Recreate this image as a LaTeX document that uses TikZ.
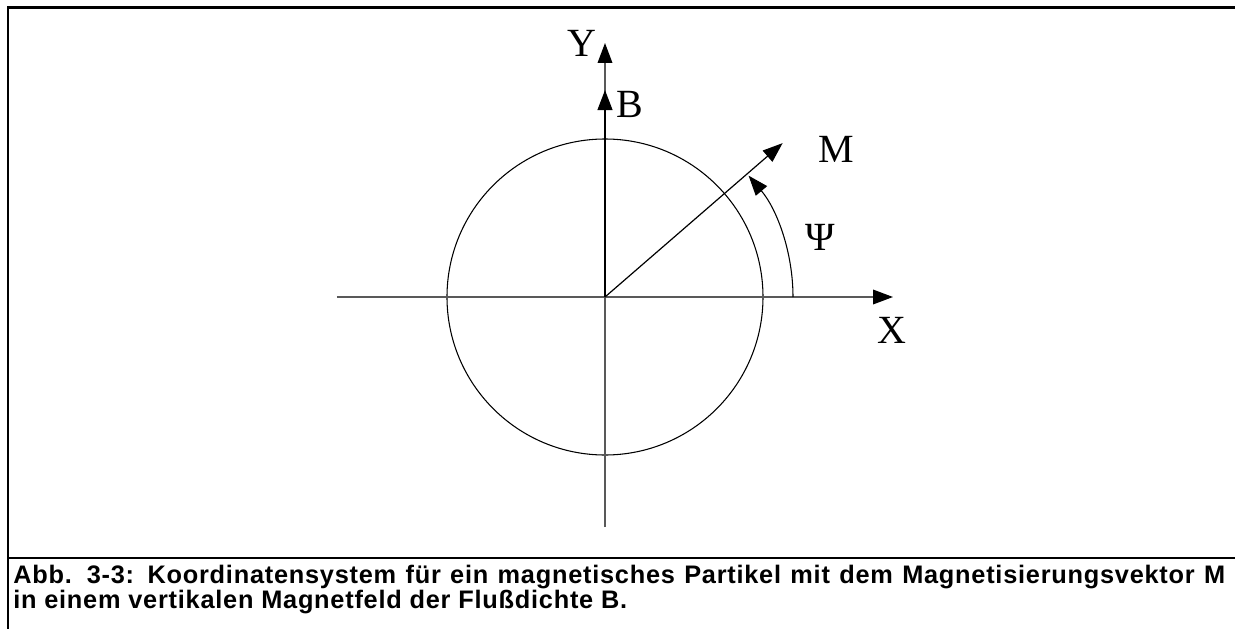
\documentclass[tikz,border=0pt]{standalone}
\usepackage{fontspec}
\setmainfont{Liberation Serif}
\setsansfont{Liberation Sans}
\newfontfamily\capfont[LetterSpace=3]{Liberation Sans}
\usetikzlibrary{arrows.meta}

\begin{document}
\begin{tikzpicture}[
    x=0.75pt, y=0.75pt,
    >={Triangle[length=15pt, width=11pt, color=black]},
    axis/.style={draw=black!65, line width=1pt},
    vecthick/.style={->, draw=black, line width=1.6pt},
    vecthin/.style={->, draw=black, line width=0.9pt},
    circ/.style={draw=black, line width=0.8pt},
    frame/.style={draw=black, line width=1.8pt},
    divider/.style={draw=black, line width=1.5pt},
    letter/.style={font=\fontsize{30}{36}\selectfont, inner sep=0pt},
    caption/.style={font=\capfont\bfseries\fontsize{19}{22}\selectfont, inner sep=0pt},
]
\useasboundingbox (-605,-332) rectangle (630,297);

% frame and caption rule
\coordinate (fr_tr) at (630,289.5);
\coordinate (fr_tl) at (-597,289.5);
\coordinate (fr_bl) at (-597,-332);
\coordinate (rule_l) at (-597,-261);
\coordinate (rule_r) at (630,-261);
\draw[frame] (fr_tr) -- (fr_tl) -- (fr_bl);
\draw[divider] (rule_l) -- (rule_r);

% axes
\coordinate (O) at (0,0);
\coordinate (x_start) at (-268,0);
\coordinate (x_end) at (288,0);
\coordinate (y_start) at (0,-230);
\coordinate (y_end) at (0,254);
\coordinate (b_tip) at (0,207);
\coordinate (m_tip) at (40.9:235);
\coordinate (psi_start) at (188,0);

\draw[circ] (O) circle[radius=158];
\draw[axis, ->] (x_start) -- (x_end);
\draw[axis, ->] (y_start) -- (y_end);
\draw[vecthick] (O) -- (b_tip);
\draw[vecthin] (O) -- (m_tip);
\draw[vecthin, line width=0.8pt] (psi_start) arc[start angle=0, end angle=40.2, radius=188];

% labels
\node[letter] (y_lab) at (-23,254) {Y};
\node[letter] (b_lab) at (25,193) {B};
\node[letter] (m_lab) at (231,148) {M};
\node[letter] (psi_lab) at (215,60) {Ψ};
\node[letter] (x_lab) at (287,-33) {X};

% caption
\node[caption, anchor=base west] (cap_1) at (-592,-286)
    {\makebox[909pt][s]{Abb. 3-3: Koordinatensystem für ein magnetisches Partikel mit dem Magnetisierungsvektor M}};
\node[caption, anchor=base west] (cap_2) at (-592,-311)
    {in einem vertikalen Magnetfeld der Flußdichte B.};
\end{tikzpicture}
\end{document}
